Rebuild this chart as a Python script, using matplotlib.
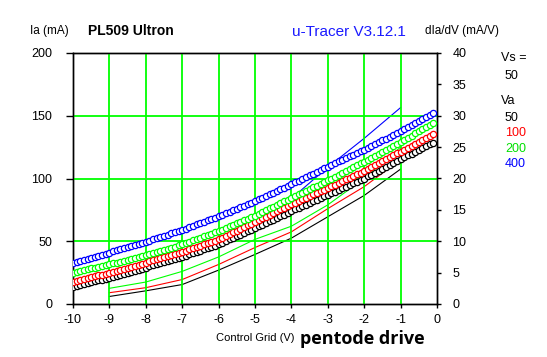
import numpy as np
import matplotlib
matplotlib.use("Agg")
import matplotlib.pyplot as plt

plt.rcParams['font.family'] = ['Liberation Sans', 'DejaVu Sans']

# Control grid voltage for the Ia traces (0.1 V steps, -10 .. -0.1)
vg = np.round(np.arange(-10.0, -0.05, 0.1), 1)

# Anode current (mA), Vs = 50 V
ia_50 = [13.5, 14.3, 15.0, 15.8, 16.5, 17.3, 18.0, 18.8, 19.5, 20.3,
         21.0, 21.8, 22.6, 23.4, 24.2, 25.0, 25.8, 26.6, 27.4, 28.2,
         29.0, 29.9, 30.7, 31.6, 32.4, 33.3, 34.1, 35.0, 35.8, 36.7,
         37.5, 38.5, 39.5, 40.5, 41.5, 42.5, 43.5, 44.5, 45.5, 46.5,
         47.5, 48.8, 50.1, 51.4, 52.7, 54.0, 55.3, 56.6, 57.9, 59.2,
         60.5, 61.9, 63.2, 64.6, 65.9, 67.3, 68.6, 70.0, 71.3, 72.7,
         74.0, 75.3, 76.6, 77.9, 79.2, 80.5, 81.8, 83.1, 84.4, 85.7,
         87.0, 88.3, 89.6, 90.9, 92.2, 93.5, 94.8, 96.1, 97.4, 98.7,
         100.0, 101.6, 103.1, 104.7, 106.2, 107.8, 109.3, 110.9, 112.4, 114.0,
         115.5, 116.9, 118.4, 119.8, 121.3, 122.7, 124.2, 125.6, 127.1, 128.5]
ia_100 = [17.5, 18.3, 19.0, 19.8, 20.5, 21.3, 22.0, 22.8, 23.5, 24.3,
          25.0, 25.8, 26.6, 27.4, 28.2, 29.0, 29.8, 30.6, 31.4, 32.2,
          33.0, 33.9, 34.7, 35.6, 36.4, 37.3, 38.1, 39.0, 39.8, 40.7,
          41.5, 42.5, 43.5, 44.5, 45.5, 46.5, 47.5, 48.5, 49.5, 50.5,
          51.5, 52.9, 54.3, 55.7, 57.1, 58.5, 59.9, 61.3, 62.7, 64.1,
          65.5, 66.9, 68.3, 69.7, 71.1, 72.5, 73.9, 75.3, 76.7, 78.1,
          79.5, 80.8, 82.1, 83.4, 84.7, 86.0, 87.3, 88.6, 89.9, 91.2,
          92.5, 93.9, 95.2, 96.6, 97.9, 99.3, 100.6, 102.0, 103.3, 104.7,
          106.0, 107.6, 109.1, 110.7, 112.2, 113.8, 115.3, 116.9, 118.4, 120.0,
          121.5, 123.1, 124.6, 126.2, 127.7, 129.3, 130.8, 132.4, 133.9, 135.5]
ia_200 = [25.0, 25.7, 26.3, 27.0, 27.6, 28.3, 28.9, 29.6, 30.2, 30.9,
          31.5, 32.3, 33.0, 33.8, 34.5, 35.3, 36.0, 36.8, 37.5, 38.3,
          39.0, 39.9, 40.7, 41.6, 42.4, 43.3, 44.1, 45.0, 45.8, 46.7,
          47.5, 48.6, 49.6, 50.7, 51.7, 52.8, 53.8, 54.9, 55.9, 57.0,
          58.0, 59.3, 60.5, 61.8, 63.0, 64.3, 65.5, 66.8, 68.0, 69.3,
          70.5, 71.9, 73.3, 74.7, 76.1, 77.5, 78.9, 80.3, 81.7, 83.1,
          84.5, 85.9, 87.3, 88.7, 90.1, 91.5, 92.9, 94.3, 95.7, 97.1,
          98.5, 100.0, 101.5, 103.0, 104.5, 106.0, 107.5, 109.0, 110.5, 112.0,
          113.5, 115.1, 116.6, 118.2, 119.7, 121.3, 122.8, 124.4, 125.9, 127.5,
          129.0, 130.7, 132.4, 134.2, 135.9, 137.6, 139.3, 141.1, 142.8, 144.5]
ia_400 = [33.0, 33.8, 34.6, 35.4, 36.2, 37.0, 37.8, 38.6, 39.4, 40.2,
          41.0, 41.9, 42.7, 43.6, 44.4, 45.3, 46.1, 47.0, 47.8, 48.7,
          49.5, 50.5, 51.4, 52.4, 53.3, 54.3, 55.2, 56.2, 57.1, 58.1,
          59.0, 60.1, 61.2, 62.3, 63.4, 64.5, 65.6, 66.7, 67.8, 68.9,
          70.0, 71.2, 72.4, 73.6, 74.8, 76.0, 77.2, 78.4, 79.6, 80.8,
          82.0, 83.4, 84.7, 86.1, 87.4, 88.8, 90.1, 91.5, 92.8, 94.2,
          95.5, 96.9, 98.3, 99.7, 101.1, 102.5, 103.9, 105.3, 106.7, 108.1,
          109.5, 110.9, 112.2, 113.6, 114.9, 116.3, 117.6, 119.0, 120.3, 121.7,
          123.0, 124.5, 125.9, 127.4, 128.8, 130.3, 131.7, 133.2, 134.6, 136.1,
          137.5, 139.1, 140.7, 142.3, 143.9, 145.6, 147.2, 148.8, 150.4, 152.0]

# Transconductance (mA/V), right axis
vg_gm = [-9, -8, -7, -6, -5, -4, -3, -2, -1]
gm_50 = [1.2, 2.1, 3.1, 5.4, 7.9, 10.5, 13.9, 17.3, 21.5]
gm_100 = [1.8, 2.6, 3.9, 6.3, 9.0, 11.5, 15.2, 18.7, 23.0]
gm_200 = [2.5, 3.5, 5.2, 7.5, 10.3, 12.4, 15.8, 20.0, 25.0]
vg_gm_400 = [-5, -4, -3, -2, -1]
gm_400 = [13.0, 16.8, 21.8, 26.4, 31.3]

va_labels = ['50', '100', '200', '400']
colors = ['#000000', '#ff0000', '#00ff00', '#0000ff']
label_colors = ['#000000', '#ff0000', '#00e000', '#0000ff']

x_ticks = list(range(-10, 1))
y_ticks = [0, 50, 100, 150, 200]
y2_ticks = [0, 5, 10, 15, 20, 25, 30, 35, 40]

W, H = 547, 357
fig = plt.figure(figsize=(W / 100, H / 100), dpi=100)
ax = fig.add_axes([73 / W, 1 - 304 / H, (437 - 73) / W, (304 - 53) / H])
ax2 = ax.twinx()

ax.set_xlim(-10, 0)
ax.set_ylim(0, 200)
ax2.set_ylim(0, 40)

# grid
for xv in x_ticks[1:-1]:
    ax.axvline(xv, color='#00ff00', lw=1.3, zorder=0.5)
for yv in y_ticks[1:-1]:
    ax.axhline(yv, color='#00ff00', lw=1.3, zorder=0.5)

# transconductance lines (right axis) -- drawn beneath markers
ax2.set_zorder(ax.get_zorder() - 1)
ax.patch.set_visible(False)
gm_sets = [(vg_gm, gm_50), (vg_gm, gm_100), (vg_gm, gm_200), (vg_gm_400, gm_400)]
for (xs, ys), c in zip(gm_sets, colors):
    ax2.plot(xs, ys, color=c, lw=0.8, zorder=2)

# Ia markers
for ys, c in zip([ia_50, ia_100, ia_200, ia_400], colors):
    ax.plot(vg, ys, ls='none', marker='o', ms=4.5, mfc='white', mec=c,
            mew=0.9, zorder=3)

ax.set_xticks(x_ticks)
ax.set_xticklabels([str(v) for v in x_ticks])
ax.set_yticks(y_ticks)
ax.set_yticklabels([str(v) for v in y_ticks])
ax2.set_yticks(y2_ticks)
ax2.set_yticklabels([str(v) for v in y2_ticks])

ax.tick_params(axis='x', length=3, width=1, labelsize=9, pad=4, colors='black')
ax.tick_params(axis='y', length=5, width=1, labelsize=9, pad=10)
ax2.tick_params(axis='y', length=3, width=1, labelsize=9, pad=8)
for t, v in zip(ax.yaxis.get_major_ticks(), y_ticks):
    if v not in (0, 200):
        t.tick1line.set_color('#00ff00')

for a in (ax, ax2):
    for s in a.spines.values():
        s.set_color('black')
        s.set_linewidth(1)

# texts
fig.text(30 / W, 1 - 31 / H, 'Ia (mA)', fontsize=8.5, va='center', ha='left')
fig.text(88 / W, 1 - 31 / H, 'PL509 Ultron', fontsize=10, fontweight='bold',
         va='center', ha='left')
fig.text(292 / W, 1 - 32 / H, 'u-Tracer V3.12.1', fontsize=11, color='#1a1aff',
         va='center', ha='left')
fig.text(425 / W, 1 - 31 / H, 'dIa/dV (mA/V)', fontsize=8.5, va='center', ha='left')
fig.text(501 / W, 1 - 58 / H, 'Vs =', fontsize=9, va='center', ha='left')
fig.text(505 / W, 1 - 76 / H, '50', fontsize=9, va='center', ha='left')
fig.text(501 / W, 1 - 101 / H, 'Va', fontsize=9, va='center', ha='left')
for i, (lab, c) in enumerate(zip(va_labels, label_colors)):
    fig.text(505 / W, 1 - (118 + 15.5 * i) / H, lab, fontsize=9, color=c,
             va='center', ha='left')
fig.text(255 / W, 1 - 338 / H, 'Control Grid (V)', fontsize=8, va='center',
         ha='center')
fig.text(300 / W, 1 - 339 / H, 'pentode drive', fontsize=13, fontweight='bold',
         va='center', ha='left', family=['Open Sans', 'DejaVu Sans'])

fig.savefig('out.png', dpi=100)
